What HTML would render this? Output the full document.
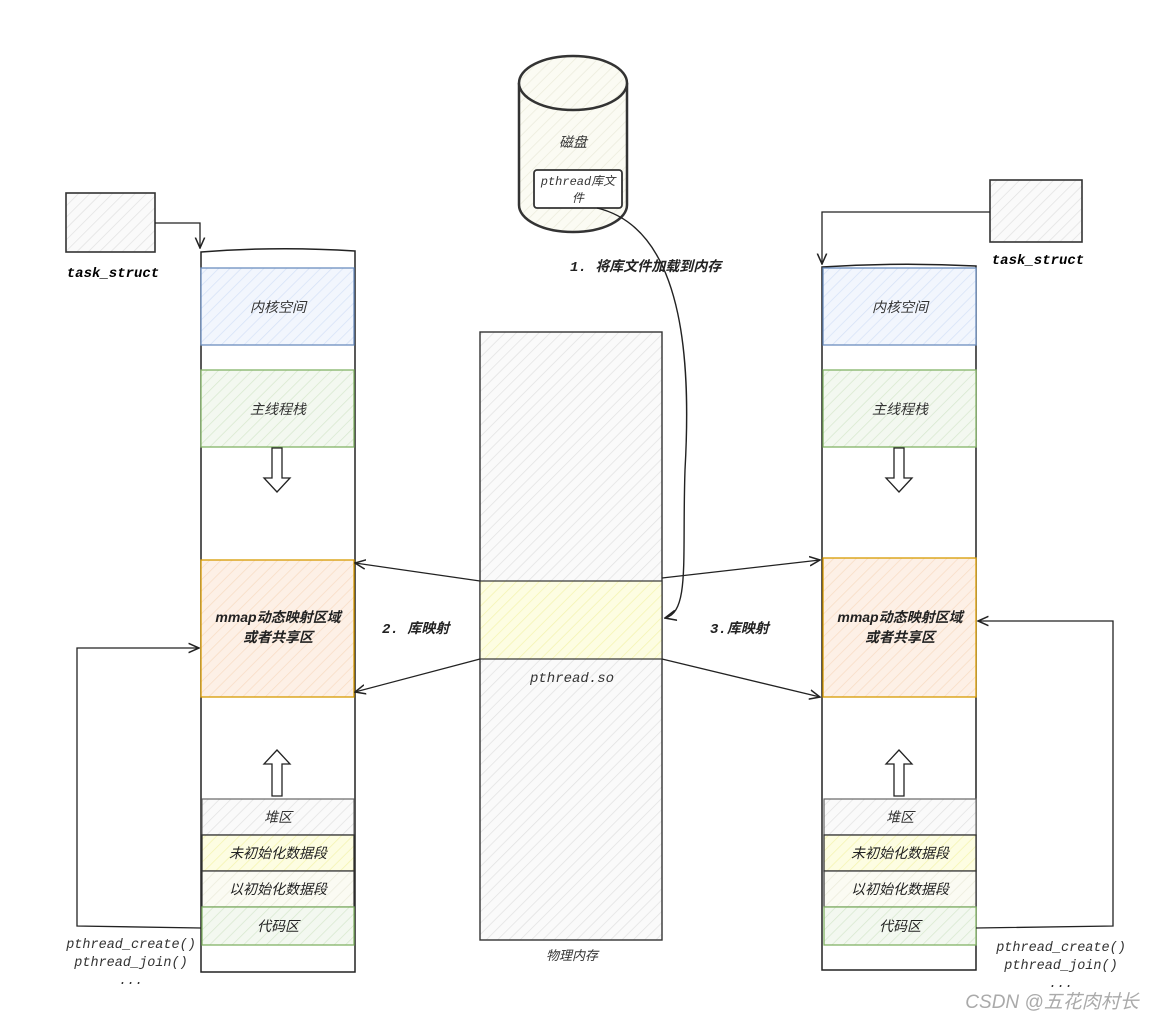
<!DOCTYPE html>
<html><head><meta charset="utf-8"><style>
html,body{margin:0;padding:0;background:#fff}
svg text{font-family:"Liberation Sans","Noto Sans CJK SC",sans-serif;font-style:italic}
.m{font-family:"Liberation Mono","Noto Sans CJK SC",monospace}
</style></head><body>
<svg width="1154" height="1022" viewBox="0 0 1154 1022" xmlns="http://www.w3.org/2000/svg">
<defs>
<pattern id="hg" width="8" height="8" patternUnits="userSpaceOnUse" patternTransform="rotate(45)"><rect width="8" height="8" fill="#fafafa"/><line x1="0" y1="0" x2="0" y2="8" stroke="#e2e2e2" stroke-width="1.5"/></pattern>
<pattern id="hb" width="8" height="8" patternUnits="userSpaceOnUse" patternTransform="rotate(45)"><rect width="8" height="8" fill="#f2f6fd"/><line x1="0" y1="0" x2="0" y2="8" stroke="#d6e2f7" stroke-width="1.5"/></pattern>
<pattern id="hgr" width="8" height="8" patternUnits="userSpaceOnUse" patternTransform="rotate(45)"><rect width="8" height="8" fill="#f3f8f0"/><line x1="0" y1="0" x2="0" y2="8" stroke="#d8e8cf" stroke-width="1.5"/></pattern>
<pattern id="ho" width="8" height="8" patternUnits="userSpaceOnUse" patternTransform="rotate(45)"><rect width="8" height="8" fill="#fdf0e6"/><line x1="0" y1="0" x2="0" y2="8" stroke="#f8dcc4" stroke-width="1.5"/></pattern>
<pattern id="hy" width="8" height="8" patternUnits="userSpaceOnUse" patternTransform="rotate(45)"><rect width="8" height="8" fill="#fdfde2"/><line x1="0" y1="0" x2="0" y2="8" stroke="#f4f4b0" stroke-width="1.5"/></pattern>
<pattern id="hc" width="8" height="8" patternUnits="userSpaceOnUse" patternTransform="rotate(45)"><rect width="8" height="8" fill="#fbfbf3"/><line x1="0" y1="0" x2="0" y2="8" stroke="#ebebdc" stroke-width="1.5"/></pattern>
<marker id="a" viewBox="0 0 10 10" refX="9" refY="5" markerWidth="9" markerHeight="9" orient="auto-start-reverse"><path d="M0,1 L9,5 L0,9" fill="none" stroke="#222" stroke-width="1.3"/></marker>
</defs>

<!-- LEFT -->
<rect x="66" y="193" width="89" height="59" fill="url(#hg)" stroke="#333" stroke-width="1.6"/>
<text x="113" y="277" text-anchor="middle" class="m" font-weight="bold" font-style="normal" font-size="14">task_struct</text>
<path d="M155,223 L200,223 L200,248" fill="none" stroke="#222" stroke-width="1.3" marker-end="url(#a)"/>
<path d="M201,252 Q278,246 355,251 L355,972 L201,972 Z" fill="#fff" stroke="#222" stroke-width="1.5"/>
<rect x="201" y="268" width="153" height="77" fill="url(#hb)" stroke="#6c8ebf" stroke-width="1.3"/>
<text x="278" y="312" text-anchor="middle" font-size="14" fill="#333">内核空间</text>
<rect x="201" y="370" width="153" height="77" fill="url(#hgr)" stroke="#82b366" stroke-width="1.3"/>
<text x="278" y="414" text-anchor="middle" font-size="14" fill="#333">主线程栈</text>
<path d="M272,448 L282,448 L282,478 L290,478 L277,492 L264,478 L272,478 Z" fill="#fff" stroke="#222" stroke-width="1.3"/>
<rect x="201" y="560" width="153" height="137" fill="url(#ho)" stroke="#d79b00" stroke-width="1.3"/>
<text x="278" y="622" text-anchor="middle" font-size="14" font-weight="bold" fill="#222">mmap动态映射区域</text>
<text x="278" y="642" text-anchor="middle" font-size="14" font-weight="bold" fill="#222">或者共享区</text>
<path d="M272,796 L282,796 L282,764 L290,764 L277,750 L264,764 L272,764 Z" fill="#fff" stroke="#222" stroke-width="1.3"/>
<rect x="202" y="799" width="152" height="36" fill="url(#hg)" stroke="#666" stroke-width="1.2"/>
<text x="278" y="822" text-anchor="middle" font-size="14" fill="#333">堆区</text>
<rect x="202" y="835" width="152" height="36" fill="url(#hy)" stroke="#333" stroke-width="1.3"/>
<text x="278" y="858" text-anchor="middle" font-size="14" fill="#222">未初始化数据段</text>
<rect x="202" y="871" width="152" height="36" fill="url(#hc)" stroke="#333" stroke-width="1.2"/>
<text x="278" y="894" text-anchor="middle" font-size="14" fill="#222">以初始化数据段</text>
<rect x="202" y="907" width="152" height="38" fill="url(#hgr)" stroke="#82b366" stroke-width="1.3"/>
<text x="278" y="931" text-anchor="middle" font-size="14" fill="#222">代码区</text>
<path d="M201,928 L77,926 L77,648 L199,648" fill="none" stroke="#222" stroke-width="1.3" marker-end="url(#a)"/>
<text x="131" y="948" text-anchor="middle" class="m" font-size="13.5" fill="#333">pthread_create()</text>
<text x="131" y="966" text-anchor="middle" class="m" font-size="13.5" fill="#333">pthread_join()</text>
<text x="131" y="984" text-anchor="middle" class="m" font-size="13.5" fill="#333">...</text>

<!-- RIGHT -->
<rect x="990" y="180" width="92" height="62" fill="url(#hg)" stroke="#333" stroke-width="1.6"/>
<text x="1038" y="264" text-anchor="middle" class="m" font-weight="bold" font-style="normal" font-size="14">task_struct</text>
<path d="M990,212 L822,212 L822,264" fill="none" stroke="#222" stroke-width="1.3" marker-end="url(#a)"/>
<path d="M822,267 Q899,262 976,266 L976,970 L822,970 Z" fill="#fff" stroke="#222" stroke-width="1.5"/>
<rect x="823" y="268" width="153" height="77" fill="url(#hb)" stroke="#6c8ebf" stroke-width="1.3"/>
<text x="900" y="312" text-anchor="middle" font-size="14" fill="#333">内核空间</text>
<rect x="823" y="370" width="153" height="77" fill="url(#hgr)" stroke="#82b366" stroke-width="1.3"/>
<text x="900" y="414" text-anchor="middle" font-size="14" fill="#333">主线程栈</text>
<path d="M894,448 L904,448 L904,478 L912,478 L899,492 L886,478 L894,478 Z" fill="#fff" stroke="#222" stroke-width="1.3"/>
<rect x="823" y="558" width="153" height="139" fill="url(#ho)" stroke="#d79b00" stroke-width="1.3"/>
<text x="900" y="622" text-anchor="middle" font-size="14" font-weight="bold" fill="#222">mmap动态映射区域</text>
<text x="900" y="642" text-anchor="middle" font-size="14" font-weight="bold" fill="#222">或者共享区</text>
<path d="M894,796 L904,796 L904,764 L912,764 L899,750 L886,764 L894,764 Z" fill="#fff" stroke="#222" stroke-width="1.3"/>
<rect x="824" y="799" width="152" height="36" fill="url(#hg)" stroke="#666" stroke-width="1.2"/>
<text x="900" y="822" text-anchor="middle" font-size="14" fill="#333">堆区</text>
<rect x="824" y="835" width="152" height="36" fill="url(#hy)" stroke="#333" stroke-width="1.3"/>
<text x="900" y="858" text-anchor="middle" font-size="14" fill="#222">未初始化数据段</text>
<rect x="824" y="871" width="152" height="36" fill="url(#hc)" stroke="#333" stroke-width="1.2"/>
<text x="900" y="894" text-anchor="middle" font-size="14" fill="#222">以初始化数据段</text>
<rect x="824" y="907" width="152" height="38" fill="url(#hgr)" stroke="#82b366" stroke-width="1.3"/>
<text x="900" y="931" text-anchor="middle" font-size="14" fill="#222">代码区</text>
<path d="M976,928 L1113,926 L1113,621 L978,621" fill="none" stroke="#222" stroke-width="1.3" marker-end="url(#a)"/>
<text x="1061" y="951" text-anchor="middle" class="m" font-size="13.5" fill="#333">pthread_create()</text>
<text x="1061" y="969" text-anchor="middle" class="m" font-size="13.5" fill="#333">pthread_join()</text>
<text x="1061" y="987" text-anchor="middle" class="m" font-size="13.5" fill="#333">...</text>

<!-- CENTER -->
<rect x="480" y="332" width="182" height="608" fill="url(#hg)" stroke="#333" stroke-width="1.4"/>
<rect x="480" y="581" width="182" height="78" fill="url(#hy)" stroke="#333" stroke-width="1.2"/>
<text x="572" y="682" text-anchor="middle" class="m" font-size="14" fill="#333">pthread.so</text>
<text x="572" y="960" text-anchor="middle" font-size="13" fill="#333">物理内存</text>

<path d="M519,83 L519,205 A54,27 0 0 0 627,205 L627,83" fill="url(#hc)" stroke="#333" stroke-width="2.5"/>
<ellipse cx="573" cy="83" rx="54" ry="27" fill="url(#hc)" stroke="#333" stroke-width="2.5"/>
<text x="573" y="147" text-anchor="middle" font-size="14" fill="#333">磁盘</text>
<rect x="534" y="170" width="88" height="38" rx="3" fill="#fff" stroke="#333" stroke-width="1.8"/>
<text x="578" y="185" text-anchor="middle" font-size="12" fill="#333"><tspan class="m">pthread</tspan>库文</text>
<text x="578" y="202" text-anchor="middle" font-size="12" fill="#333">件</text>
<path d="M597,208 C690,230 690,380 685,470 C682,560 690,612 665,618" fill="none" stroke="#222" stroke-width="1.4" marker-end="url(#a)"/>
<text x="570" y="271" font-size="14" font-weight="bold" fill="#222"><tspan class="m">1. </tspan>将库文件加载到内存</text>

<path d="M480,581 L355,563" fill="none" stroke="#222" stroke-width="1.3" marker-end="url(#a)"/>
<path d="M480,659 L355,692" fill="none" stroke="#222" stroke-width="1.3" marker-end="url(#a)"/>
<text x="382" y="633" font-size="14" font-weight="bold" fill="#222"><tspan class="m">2. </tspan>库映射</text>
<path d="M662,578 L820,560" fill="none" stroke="#222" stroke-width="1.3" marker-end="url(#a)"/>
<path d="M662,659 L820,697" fill="none" stroke="#222" stroke-width="1.3" marker-end="url(#a)"/>
<text x="710" y="633" font-size="14" font-weight="bold" fill="#222"><tspan class="m">3.</tspan>库映射</text>

<text x="1052" y="1008" text-anchor="middle" font-size="19" font-style="normal" fill="#aaa">CSDN @五花肉村长</text>
</svg>
</body></html>
